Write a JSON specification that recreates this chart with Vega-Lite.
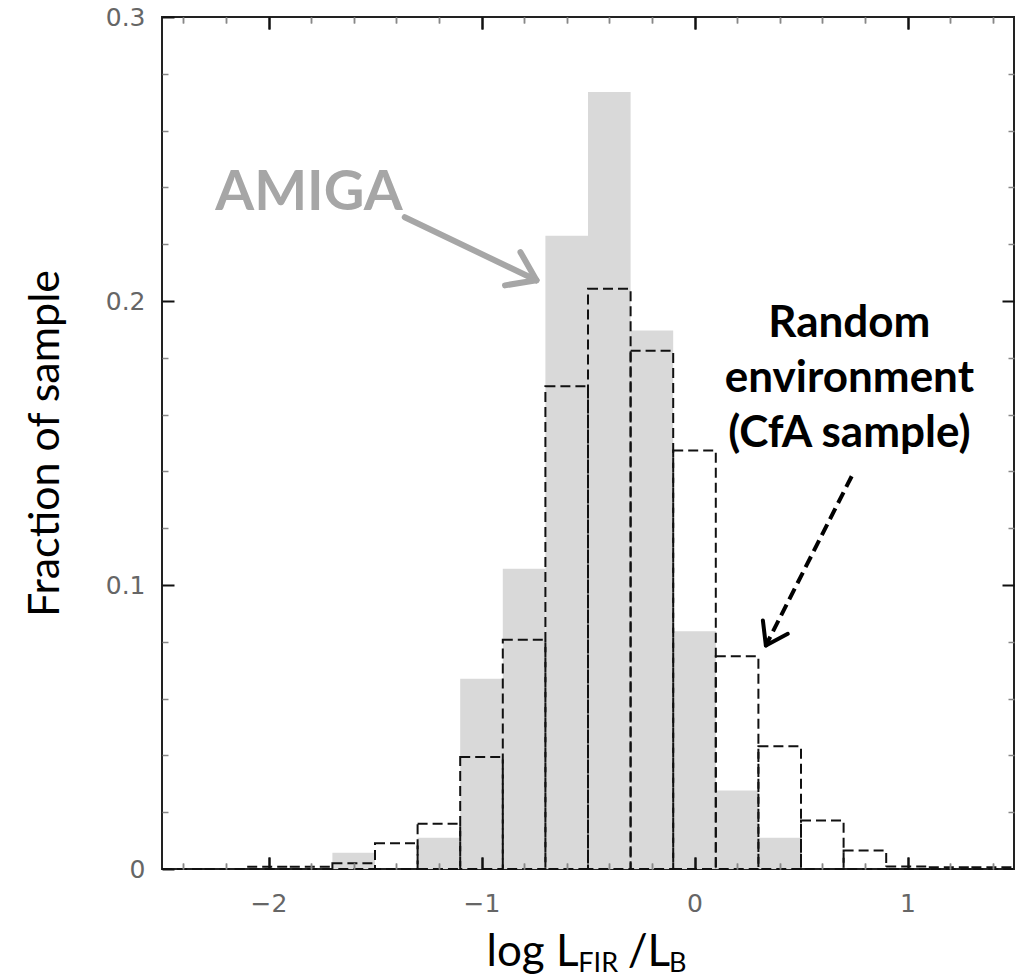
{
  "$schema": "https://vega.github.io/schema/vega-lite/v6.json",
  "width": 852,
  "height": 852,
  "autosize": {"type": "none"},
  "padding": {"left": 162, "top": 17, "right": 5, "bottom": 109},
  "background": "white",
  "config": {
    "view": {"stroke": "#222", "strokeWidth": 2},
    "axis": {"domain": false, "grid": false, "ticks": true, "labelFont": "DejaVu Sans", "labelFontSize": 25, "labelColor": "#666", "labelFlush": false, "labelOverlap": false}
  },
  "resolve": {"axis": {"x": "independent", "y": "independent"}},
  "layer": [
    {
      "data": {"values": [
        {"lo": -2.5, "hi": -2.3, "amiga": 0},
        {"lo": -2.3, "hi": -2.1, "amiga": 0},
        {"lo": -2.1, "hi": -1.9, "amiga": 0},
        {"lo": -1.9, "hi": -1.7, "amiga": 0},
        {"lo": -1.7, "hi": -1.5, "amiga": 0.0057},
        {"lo": -1.5, "hi": -1.3, "amiga": 0},
        {"lo": -1.3, "hi": -1.1, "amiga": 0.011},
        {"lo": -1.1, "hi": -0.9, "amiga": 0.067},
        {"lo": -0.9, "hi": -0.7, "amiga": 0.1057},
        {"lo": -0.7, "hi": -0.5, "amiga": 0.223},
        {"lo": -0.5, "hi": -0.3, "amiga": 0.2736},
        {"lo": -0.3, "hi": -0.1, "amiga": 0.1896},
        {"lo": -0.1, "hi": 0.1, "amiga": 0.0837},
        {"lo": 0.1, "hi": 0.3, "amiga": 0.0276},
        {"lo": 0.3, "hi": 0.5, "amiga": 0.011},
        {"lo": 0.5, "hi": 0.7, "amiga": 0},
        {"lo": 0.7, "hi": 0.9, "amiga": 0},
        {"lo": 0.9, "hi": 1.1, "amiga": 0},
        {"lo": 1.1, "hi": 1.3, "amiga": 0},
        {"lo": 1.3, "hi": 1.5, "amiga": 0}
      ]},
      "mark": {"type": "rect", "color": "#d9d9d9"},
      "encoding": {
        "x": {
          "field": "lo", "type": "quantitative",
          "scale": {"domain": [-2.5, 1.5], "nice": false, "zero": false},
          "axis": {
            "orient": "bottom", "title": null,
            "values": [-2, -1, 0, 1],
            "format": "d",
            "ticks": true,
            "tickSize": -12, "tickColor": "#111", "tickWidth": 2, "tickOpacity": 1,
            "grid": true, "gridColor": "#111", "gridWidth": 2, "gridDash": [12, 3000],
            "labelPadding": 34,
            "zindex": 3
          }
        },
        "x2": {"field": "hi"},
        "y": {
          "field": "amiga", "type": "quantitative",
          "scale": {"domain": [0, 0.3], "nice": false, "zero": true},
          "axis": {
            "orient": "left",
            "title": "Fraction of sample",
            "titleFont": "Lato", "titleFontSize": 43, "titleFontWeight": "normal", "titleColor": "#000",
            "titlePadding": 38,
            "values": [0, 0.1, 0.2, 0.3],
            "labelExpr": "datum.value == 0 ? '0' : format(datum.value, '.1f')",
            "tickSize": -12, "tickColor": "#111", "tickWidth": 2,
            "labelPadding": 29
          }
        },
        "y2": {"datum": 0}
      }
    },
    {
      "data": {"values": [
        {"lo": -2.5, "hi": -2.3, "cfa": 0},
        {"lo": -2.3, "hi": -2.1, "cfa": 0},
        {"lo": -2.1, "hi": -1.9, "cfa": 0.0008},
        {"lo": -1.9, "hi": -1.7, "cfa": 0.0008},
        {"lo": -1.7, "hi": -1.5, "cfa": 0.002},
        {"lo": -1.5, "hi": -1.3, "cfa": 0.0091},
        {"lo": -1.3, "hi": -1.1, "cfa": 0.0159},
        {"lo": -1.1, "hi": -0.9, "cfa": 0.0394},
        {"lo": -0.9, "hi": -0.7, "cfa": 0.0807},
        {"lo": -0.7, "hi": -0.5, "cfa": 0.17},
        {"lo": -0.5, "hi": -0.3, "cfa": 0.2043},
        {"lo": -0.3, "hi": -0.1, "cfa": 0.1825},
        {"lo": -0.1, "hi": 0.1, "cfa": 0.1474},
        {"lo": 0.1, "hi": 0.3, "cfa": 0.0749},
        {"lo": 0.3, "hi": 0.5, "cfa": 0.0432},
        {"lo": 0.5, "hi": 0.7, "cfa": 0.0171},
        {"lo": 0.7, "hi": 0.9, "cfa": 0.0065},
        {"lo": 0.9, "hi": 1.1, "cfa": 0.0009},
        {"lo": 1.1, "hi": 1.3, "cfa": 0.0006},
        {"lo": 1.3, "hi": 1.5, "cfa": 0.0006}
      ]},
      "mark": {"type": "rect", "fillOpacity": 0, "stroke": "#111", "strokeWidth": 2, "strokeDash": [10, 5]},
      "encoding": {
        "x": {
          "field": "lo", "type": "quantitative",
          "axis": {
            "orient": "top", "title": null, "labels": false,
            "values": [-2, -1, 0, 1],
            "ticks": true,
            "tickSize": -12, "tickColor": "#111", "tickWidth": 2, "tickOpacity": 1,
            "grid": true, "gridColor": "#111", "gridWidth": 2, "gridDash": [12, 3000],
            "zindex": 3
          }
        },
        "x2": {"field": "hi"},
        "y": {
          "field": "cfa", "type": "quantitative",
          "axis": {
            "orient": "right", "title": null, "labels": false,
            "values": [0.1, 0.2],
            "tickSize": -12, "tickColor": "#111", "tickWidth": 2
          }
        },
        "y2": {"datum": 0}
      }
    },
    {
      "data": {"values": [
        {"x": -1.3604, "y": 0.2295, "x2": -0.7422, "y2": 0.2073},
        {"x": -0.7422, "y": 0.2073, "x2": -0.8171, "y2": 0.2172},
        {"x": -0.7422, "y": 0.2073, "x2": -0.8897, "y2": 0.2055}
      ]},
      "mark": {"type": "rule", "color": "#a6a6a6", "strokeWidth": 6, "strokeCap": "round"},
      "encoding": {
        "x": {
          "field": "x", "type": "quantitative",
          "axis": {
            "orient": "bottom", "title": null, "labels": false,
            "values": [-2.4, -2.2, -1.8, -1.6, -1.4, -1.2, -0.8, -0.6, -0.4, -0.2, 0.2, 0.4, 0.6, 0.8, 1.2, 1.4],
            "ticks": true,
            "tickSize": -6, "tickColor": "#888", "tickWidth": 1.5, "tickOpacity": 1,
            "grid": true, "gridColor": "#888", "gridWidth": 1.5, "gridDash": [6, 3000],
            "zindex": 3
          }
        },
        "y": {
          "field": "y", "type": "quantitative",
          "axis": {
            "orient": "left", "title": null, "labels": false,
            "values": [0.02, 0.04, 0.06, 0.08, 0.12, 0.14, 0.16, 0.18, 0.22, 0.24, 0.26, 0.28],
            "tickSize": -6, "tickColor": "#888", "tickWidth": 1.5
          }
        },
        "x2": {"field": "x2"},
        "y2": {"field": "y2"}
      }
    },
    {
      "data": {"values": [
        {"x": 0.738, "y": 0.1383, "x2": 0.3351, "y2": 0.0787}
      ]},
      "mark": {"type": "rule", "color": "#000", "strokeWidth": 4, "strokeDash": [12, 6]},
      "encoding": {
        "x": {
          "field": "x", "type": "quantitative",
          "axis": {
            "orient": "top", "title": null, "labels": false,
            "values": [-2.4, -2.2, -1.8, -1.6, -1.4, -1.2, -0.8, -0.6, -0.4, -0.2, 0.2, 0.4, 0.6, 0.8, 1.2, 1.4],
            "ticks": true,
            "tickSize": -6, "tickColor": "#888", "tickWidth": 1.5, "tickOpacity": 1,
            "grid": true, "gridColor": "#888", "gridWidth": 1.5, "gridDash": [6, 3000],
            "zindex": 3
          }
        },
        "y": {
          "field": "y", "type": "quantitative",
          "axis": {
            "orient": "right", "title": null, "labels": false,
            "values": [0.02, 0.04, 0.06, 0.08, 0.12, 0.14, 0.16, 0.18, 0.22, 0.24, 0.26, 0.28],
            "tickSize": -6, "tickColor": "#888", "tickWidth": 1.5
          }
        },
        "x2": {"field": "x2"},
        "y2": {"field": "y2"}
      }
    },
    {
      "data": {"values": [
        {"x": 0.3351, "y": 0.0787, "x2": 0.4381, "y2": 0.0828},
        {"x": 0.3351, "y": 0.0787, "x2": 0.3211, "y2": 0.0875}
      ]},
      "mark": {"type": "rule", "color": "#000", "strokeWidth": 4, "strokeCap": "round"},
      "encoding": {
        "x": {"field": "x", "type": "quantitative", "axis": null},
        "y": {"field": "y", "type": "quantitative", "axis": null},
        "x2": {"field": "x2"},
        "y2": {"field": "y2"}
      }
    },
    {
      "data": {"values": [{"label": "AMIGA", "x": -2.25, "y": 0.2319}]},
      "mark": {"type": "text", "align": "left", "baseline": "alphabetic", "font": "Lato", "fontWeight": "bold", "fontSize": 56, "color": "#a6a6a6"},
      "encoding": {
        "x": {"field": "x", "type": "quantitative", "axis": null},
        "y": {"field": "y", "type": "quantitative", "axis": null},
        "text": {"field": "label"}
      }
    },
    {
      "data": {"values": [
        {"label": "Random", "x": 0.727, "y": 0.1872},
        {"label": "environment", "x": 0.727, "y": 0.1678},
        {"label": "(CfA sample)", "x": 0.727, "y": 0.1485}
      ]},
      "mark": {"type": "text", "align": "center", "baseline": "alphabetic", "font": "Lato", "fontWeight": "bold", "fontSize": 44, "color": "#000"},
      "encoding": {
        "x": {"field": "x", "type": "quantitative", "axis": null},
        "y": {"field": "y", "type": "quantitative", "axis": null},
        "text": {"field": "label"}
      }
    },
    {
      "data": {"values": [
        {"label": "log L", "x": -0.9763, "y": -0.034},
        {"label": "/L", "x": -0.3135, "y": -0.034}
      ]},
      "mark": {"type": "text", "align": "left", "baseline": "alphabetic", "font": "Lato", "fontSize": 44, "color": "#000"},
      "encoding": {
        "x": {"field": "x", "type": "quantitative", "axis": null},
        "y": {"field": "y", "type": "quantitative", "axis": null},
        "text": {"field": "label"}
      }
    },
    {
      "data": {"values": [
        {"label": "FIR", "x": -0.5455, "y": -0.0362},
        {"label": "B", "x": -0.1193, "y": -0.0362}
      ]},
      "mark": {"type": "text", "align": "left", "baseline": "alphabetic", "font": "Lato", "fontSize": 27, "color": "#000"},
      "encoding": {
        "x": {"field": "x", "type": "quantitative", "axis": null},
        "y": {"field": "y", "type": "quantitative", "axis": null},
        "text": {"field": "label"}
      }
    }
  ]
}
